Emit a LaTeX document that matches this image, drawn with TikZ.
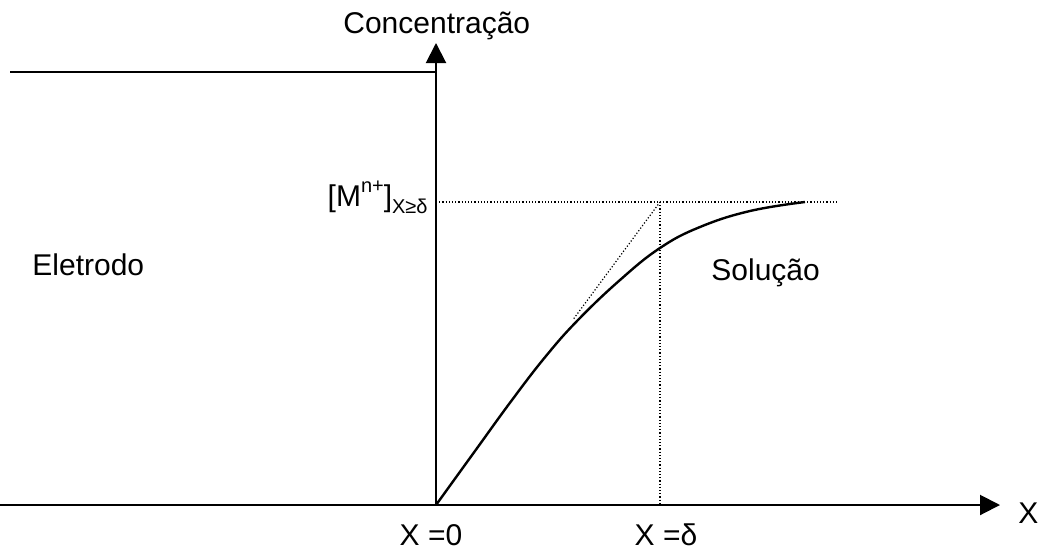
\documentclass[tikz,border=0pt]{standalone}
\usepackage{fontspec}
\setmainfont{Liberation Sans}
\usetikzlibrary{arrows.meta,calc}
\begin{document}
\begin{tikzpicture}[x=0.5pt,y=-0.5pt,
  lbl/.style={inner sep=0pt,font=\fontsize{15}{18}\selectfont},
  axisline/.style={line width=1pt},
  axisarrow/.style={line width=1pt,-{Triangle[length=10pt,width=10pt]}},
  dotline/.style={line width=0.6pt,dash pattern=on 0.6pt off 1pt},
  curveline/.style={line width=1.2pt}]
\useasboundingbox (0,0) rectangle (1048,552);
% coordinates
\coordinate (O) at (436,505);
\coordinate (ytip) at (436,43);
\coordinate (xstart) at (0,505);
\coordinate (xtip) at (1000,505);
\coordinate (wallL) at (10,72);
\coordinate (wallR) at (436,72);
\coordinate (Mleft) at (436,202);
\coordinate (Mright) at (838,202);
\coordinate (D) at (660,202);
\coordinate (Dbot) at (660,505);
\coordinate (T0) at ($(O)!0.615!(D)$);
% axes
\draw[axisline] (wallL) -- (wallR);
\draw[axisarrow] (O) -- (ytip);
\draw[axisarrow] (xstart) -- (xtip);
% dotted
\draw[dotline] (Mleft) -- (Mright);
\draw[dotline] (D) -- (Dbot);
\draw[dotline] (T0) -- (D);
% curve
\draw[curveline] plot[smooth,tension=0.7] coordinates {(436,505) (475,451) (512,400) (546,356) (578,320) (620,280) (660,248) (700,227) (750,211) (805,202)};
% labels
\node[lbl,anchor=base west] (conc) at (343,33) {Concentração};
\node[lbl,anchor=base west] (elet) at (32,275) {Eletrodo};
\node[lbl,anchor=base west] (sol) at (711,280) {Solução};
\node[lbl,anchor=base] (x0) at (431,545) {X =0};
\node[lbl,anchor=base] (xd) at (666,545) {X =δ};
\node[lbl,anchor=base west] (xl) at (1018,523) {X};
\node[lbl,anchor=base east] (M) at (428,206) {[M\raisebox{0.45em}{\fontsize{10}{12}\selectfont n+}]\raisebox{-0.25em}{\fontsize{10}{12}\selectfont X≥δ}};
\end{tikzpicture}
\end{document}
